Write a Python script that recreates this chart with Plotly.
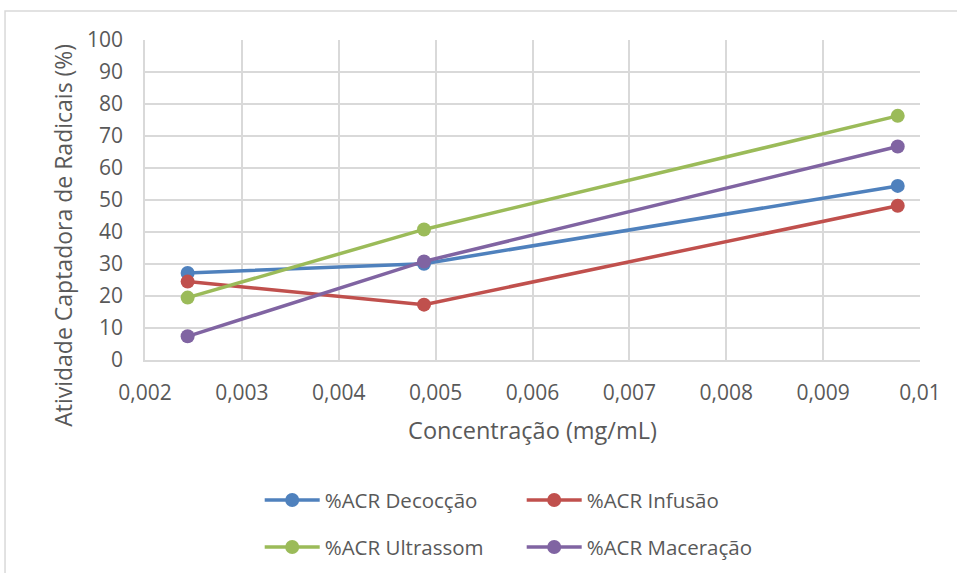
import plotly.graph_objects as go

concentracao = [0.00244, 0.00488, 0.00977]
decoccao = [27.2, 30.1, 54.4]
infusao = [24.5, 17.3, 48.2]
ultrassom = [19.5, 40.8, 76.3]
maceracao = [7.4, 30.8, 66.7]

series_names = ["%ACR Decocção", "%ACR Infusão", "%ACR Ultrassom", "%ACR Maceração"]
series_values = [decoccao, infusao, ultrassom, maceracao]
colors = ["#4F81BD", "#C0504D", "#9BBB59", "#8064A2"]
legend_ids = ["legend", "legend", "legend2", "legend2"]

x_tickvals = [0.002, 0.003, 0.004, 0.005, 0.006, 0.007, 0.008, 0.009, 0.01]
x_ticktext = ["0,002", "0,003", "0,004", "0,005", "0,006", "0,007", "0,008", "0,009", "0,01"]
y_tickvals = list(range(0, 101, 10))

FONT = "'Open Sans', sans-serif"
GREY = "#595959"

fig = go.Figure()
for name, vals, col, lg in zip(series_names, series_values, colors, legend_ids):
    fig.add_trace(go.Scatter(
        x=concentracao, y=vals, name=name, mode="lines+markers",
        line=dict(color=col, width=3.5),
        marker=dict(color=col, size=14),
        legend=lg,
    ))

legend_common = dict(
    orientation="h", x=0.148, xanchor="left", yanchor="middle",
    entrywidth=192, entrywidthmode="pixels", itemwidth=55,
    font=dict(size=20.5, color=GREY, family=FONT),
)

fig.update_layout(
    width=957, height=573,
    margin=dict(l=145, r=37, t=40, b=213, autoexpand=False),
    paper_bgcolor="white", plot_bgcolor="white",
    font=dict(family=FONT, color=GREY, size=20),
    separators=",.",
    xaxis=dict(
        range=[0.002, 0.01], tickvals=x_tickvals, ticktext=x_ticktext,
        showgrid=True, gridcolor="#D9D9D9", gridwidth=1.5,
        showline=True, linecolor="#D9D9D9", linewidth=1.5, mirror=False,
        zeroline=False, automargin=False,
        ticks="outside", ticklen=13, tickcolor="rgba(0,0,0,0)",
        tickfont=dict(size=21, color=GREY, family=FONT),
        title=dict(text="Concentração (mg/mL)", font=dict(size=23.5, color=GREY, family=FONT), standoff=18),
    ),
    yaxis=dict(
        range=[0, 100], tickvals=y_tickvals,
        showgrid=True, gridcolor="#D9D9D9", gridwidth=1.5,
        showline=True, linecolor="#D9D9D9", linewidth=1.5,
        zeroline=False, automargin=False,
        ticks="outside", ticklen=16, tickcolor="rgba(0,0,0,0)",
        tickfont=dict(size=21, color=GREY, family=FONT),
    ),
    annotations=[dict(
        text="Atividade Captadora de Radicais (%)", textangle=-90,
        xref="paper", yref="paper", x=-0.105, y=0.39,
        xanchor="center", yanchor="middle", showarrow=False,
        font=dict(size=23, color=GREY, family=FONT),
    )],
    legend=dict(legend_common, y=-0.438),
    legend2=dict(legend_common, y=-0.585),
    shapes=[dict(
        type="rect", xref="paper", yref="paper",
        x0=-0.1806, x1=1.06, y0=-0.70, y1=1.0906,
        line=dict(color="#D9D9D9", width=1.5), fillcolor="rgba(0,0,0,0)", layer="below",
    )],
)

fig.write_html("out.html")
